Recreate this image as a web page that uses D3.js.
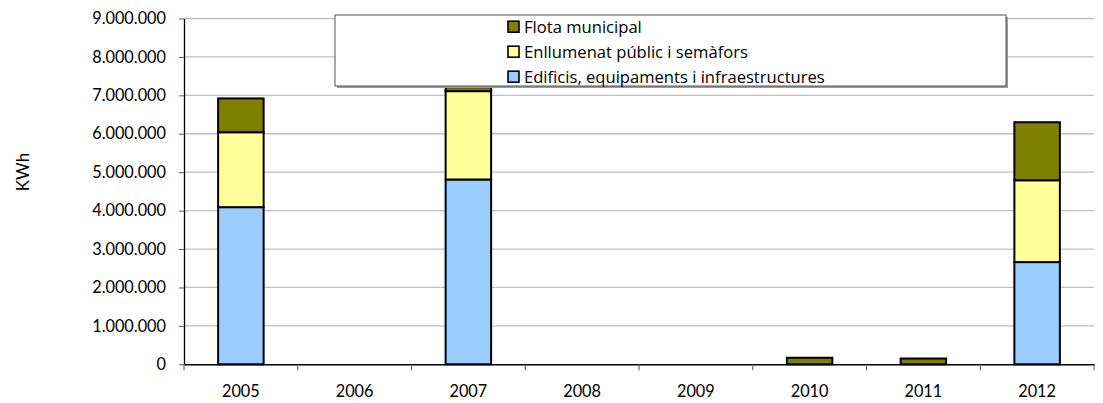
<!DOCTYPE html>
<html><head><meta charset="utf-8">
<script src="https://cdn.jsdelivr.net/npm/d3@7/dist/d3.min.js"></script>
<style>body{margin:0;background:#fff}svg{display:block}text{font-family:Lato,"Liberation Sans",sans-serif}</style>
</head><body><svg id="c" width="1103" height="403"></svg>
<script>
const years = ["2005","2006","2007","2008","2009","2010","2011","2012"];
const edificis = [4090000, 0, 4810000, 0, 0, 0, 0, 2660000];
const enllumenat = [1950000, 0, 2300000, 0, 0, 0, 0, 2130000];
const flota = [880000, 0, 100000, 0, 0, 170000, 150000, 1510000];
const seriesNames = ["Edificis, equipaments i infraestructures","Enllumenat públic i semàfors","Flota municipal"];
const colors = ["#99CCFF","#FFFF99","#808000"];
const yTicks = [0,1000000,2000000,3000000,4000000,5000000,6000000,7000000,8000000,9000000];

const svg = d3.select("#c");
const L=184, R=1094, T=18.5, B=364.3;
const x = d3.scaleBand().domain(years).range([L,R]).paddingInner(0).paddingOuter(0);
const y = d3.scaleLinear().domain([0,9000000]).range([B,T]);
const fmt = v => d3.format(",")(v).replace(/,/g,".");

// gridlines
svg.append("g").selectAll("line").data(yTicks.slice(1)).join("line")
  .attr("x1",L).attr("x2",R).attr("y1",d=>y(d)).attr("y2",d=>y(d))
  .attr("stroke","#c0c0c0").attr("stroke-width",1.3);

// stacked bars
const rows = years.map((yr,i)=>({year:yr, s0:edificis[i], s1:enllumenat[i], s2:flota[i]}));
const stack = d3.stack().keys(["s0","s1","s2"])(rows);
const bw = x.bandwidth()*0.4;
stack.forEach((layer,k)=>{
  svg.append("g").selectAll("rect").data(layer.filter(d=>d[1]-d[0]>0)).join("rect")
    .attr("x",d=>x(d.data.year)+x.bandwidth()/2-bw/2)
    .attr("width",bw)
    .attr("y",d=>y(d[1]))
    .attr("height",d=>y(d[0])-y(d[1]))
    .attr("fill",colors[k]).attr("stroke","#000").attr("stroke-width",2);
});

// y axis
const ya = svg.append("g").attr("transform",`translate(${L},0)`)
  .call(d3.axisLeft(y).tickValues(yTicks).tickFormat(fmt).tickSizeInner(5).tickSizeOuter(0).tickPadding(13));
ya.select(".domain").attr("stroke","#000").attr("stroke-width",1.3);
ya.selectAll(".tick line").attr("stroke","#555");
ya.selectAll("text").attr("font-size",16.3).attr("fill","#000").style("font-family","Lato, sans-serif");

// x axis
const xa = svg.append("g").attr("transform",`translate(0,${B})`)
  .call(d3.axisBottom(x).tickSize(0).tickPadding(21));
xa.select(".domain").attr("stroke","#000").attr("stroke-width",1.6);
xa.selectAll("text").attr("font-size",16.3).attr("fill","#000").style("font-family","Lato, sans-serif");
// category boundary ticks
svg.append("g").selectAll("line").data(years.map((d,i)=>i).concat([years.length])).join("line")
  .attr("x1",i=> i<years.length ? x(years[i]) : R).attr("x2",i=> i<years.length ? x(years[i]) : R)
  .attr("y1",B).attr("y2",B+6).attr("stroke","#555").attr("stroke-width",1);

// y title
svg.append("text").attr("transform","translate(23,172) rotate(-90)")
  .attr("text-anchor","middle").attr("dy","0.35em").attr("font-size",17).text("KWh");

// legend
const lg = svg.append("g");
lg.append("rect").attr("x",337).attr("y",17).attr("width",671).attr("height",71).attr("fill","#999");
lg.append("rect").attr("x",335).attr("y",15).attr("width",671).attr("height",71).attr("fill","#fff").attr("stroke","#555").attr("stroke-width",1);
const order = [2,1,0];
order.forEach((k,j)=>{
  const cy = 26.7 + j*25;
  lg.append("rect").attr("x",508).attr("y",cy-5.5).attr("width",11).attr("height",11)
    .attr("fill",colors[k]).attr("stroke","#000").attr("stroke-width",1.6);
  lg.append("text").attr("x",524).attr("y",cy).attr("dy","0.36em").attr("font-size",16.6)
    .style("font-family","'Open Sans', sans-serif").text(seriesNames[k]);
});
</script></body></html>
